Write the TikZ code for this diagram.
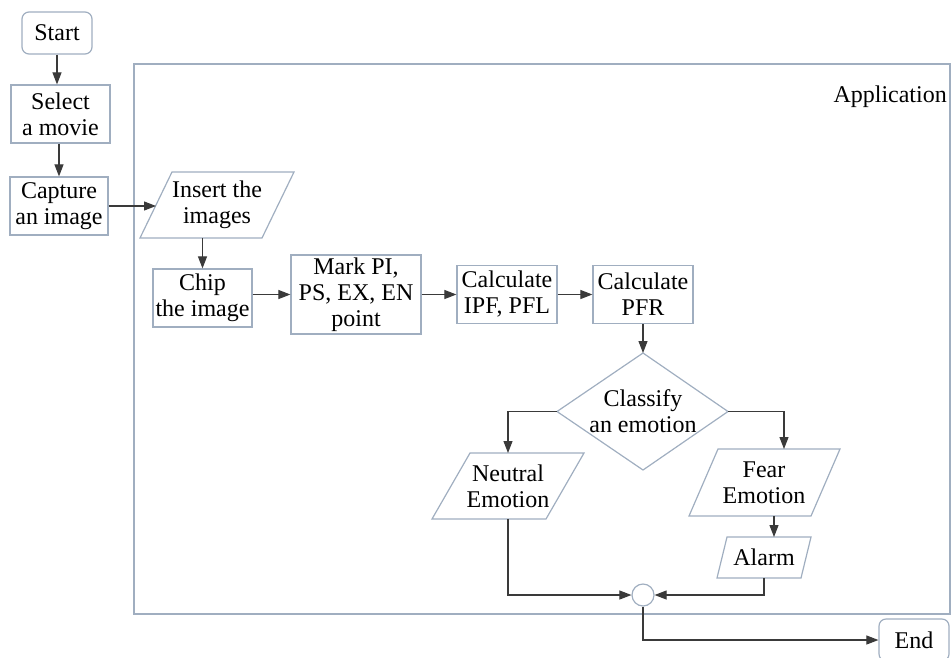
\documentclass[tikz,border=0pt]{standalone}
\usepackage{fontspec}
\setmainfont{Liberation Serif}
\usetikzlibrary{arrows.meta}
\definecolor{boxline}{HTML}{A0AEC0}
\definecolor{wire}{HTML}{3A3A3A}
\tikzset{
  label text/.style={align=center, inner sep=0pt, font=\fontsize{24}{26}\selectfont},
  stepbox/.style={label text, draw=boxline, line width=1.2pt},
  termbox/.style={stepbox, rounded corners=7pt, minimum width=70pt, minimum height=42pt},
  outline/.style={draw=boxline, line width=1.2pt},
  flow/.style={draw=wire, line width=1.1pt, -{Triangle[length=12pt,width=9pt]}},
  plain/.style={draw=wire, line width=1.1pt},
}
\begin{document}
\begin{tikzpicture}[x=1pt, y=-1pt]
\useasboundingbox (0,0) rectangle (952,657);

% application frame
\draw[outline] (134,64) rectangle (950,614);
\node[label text, anchor=base east] (app) at (947,102) {Application};

% steps outside the application
\node[termbox] (start) at (57,33) {Start};
\node[stepbox, minimum width=99pt, minimum height=58pt] (select) at (60.5,114) {Select\\a movie};
\node[stepbox, minimum width=98pt, minimum height=58pt] (capture) at (59,206) {Capture\\an image};

% input parallelogram: insert the images
\draw[outline] (172,172) -- (294,172) -- (262,238) -- (140,238) -- cycle;
\node[label text] (insert) at (217,205) {Insert the\\images};
\coordinate (insert-w) at (156,206);
\coordinate (insert-s) at (202.5,238);

% processing chain
\node[stepbox, minimum width=99pt, minimum height=58pt] (chip) at (202.5,298) {Chip\\the image};
\node[stepbox, minimum width=130pt, minimum height=79pt] (mark) at (356,294.5) {Mark PI,\\PS, EX, EN\\point};
\node[stepbox, minimum width=100pt, minimum height=58pt] (ipf) at (507,294.5) {Calculate\\IPF, PFL};
\node[stepbox, minimum width=100pt, minimum height=58pt] (pfr) at (643,294.5) {Calculate\\PFR};

% decision
\coordinate (dia-n) at (643,353);
\coordinate (dia-e) at (728,411.5);
\coordinate (dia-s) at (643,470);
\coordinate (dia-w) at (557,411.5);
\draw[outline] (dia-n) -- (dia-e) -- (dia-s) -- (dia-w) -- cycle;
\node[label text] (classify) at (643,411) {Classify\\an emotion};

% outcome parallelograms
\draw[outline] (470,453) -- (584,453) -- (546,519) -- (432,519) -- cycle;
\node[label text] (neutral) at (508,486) {Neutral\\Emotion};
\coordinate (neutral-n) at (508,453);
\coordinate (neutral-s) at (508,519);

\draw[outline] (718,449) -- (840,449) -- (811,516) -- (689,516) -- cycle;
\node[label text] (fear) at (764,482.5) {Fear\\Emotion};
\coordinate (fear-n) at (784,449);
\coordinate (fear-s) at (774,516);

\draw[outline] (727,537) -- (811,537) -- (801,578) -- (717,578) -- cycle;
\node[label text] (alarm) at (764,557.5) {Alarm};
\coordinate (alarm-n) at (774,537);
\coordinate (alarm-s) at (764,578);

% merge point and end
\node[draw=boxline, line width=1.2pt, circle, minimum size=22pt, inner sep=0pt] (join) at (643,595) {};
\node[termbox] (end) at (914,640) {End};

% connectors
\draw[flow] (start.south) -- (start.south |- select.north);
\draw[flow] (capture.north |- select.south) -- (capture.north);
\draw[flow] (capture.east) -- (capture.east -| insert-w);
\draw[flow] (insert-s) -- (chip.north);
\draw[flow] (mark.west -| chip.east) -- (mark.west);
\draw[flow] (mark.east) -- (ipf.west);
\draw[flow] (ipf.east) -- (pfr.west);
\draw[flow] (pfr.south) -- (dia-n);
\draw[flow] (dia-w) -| (neutral-n);
\draw[flow] (dia-e) -| (fear-n);
\draw[flow] (fear-s) -- (alarm-n);
\draw[flow] (neutral-s) |- (join.west);
\draw[flow] (alarm-s) |- (join.east);
\draw[flow] (join.south) |- (end.west);
\end{tikzpicture}
\end{document}
